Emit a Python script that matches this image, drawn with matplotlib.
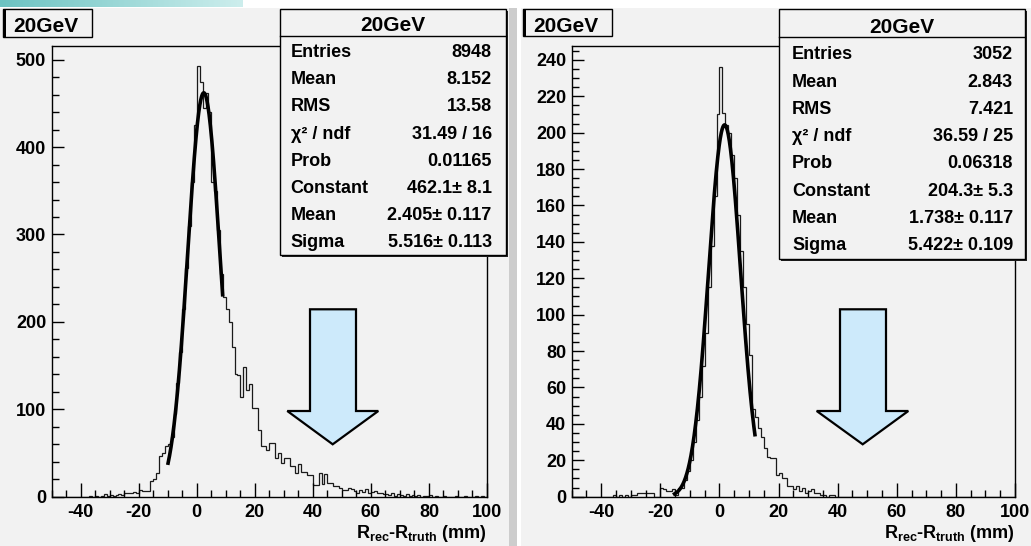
import numpy as np
import matplotlib
matplotlib.use("Agg")
import matplotlib.pyplot as plt
from matplotlib.patches import Rectangle, Polygon
from matplotlib.ticker import MultipleLocator
from matplotlib.colors import LinearSegmentedColormap

plt.rcParams['font.family'] = ['Liberation Sans', 'DejaVu Sans']
plt.rcParams['font.weight'] = 'bold'
plt.rcParams['axes.unicode_minus'] = False
plt.rcParams['mathtext.fontset'] = 'custom'
plt.rcParams['mathtext.rm'] = 'Liberation Sans:bold'
plt.rcParams['mathtext.it'] = 'Liberation Sans:bold'
plt.rcParams['mathtext.bf'] = 'Liberation Sans:bold'

# ---------------- data ----------------
bin_edges = np.arange(-50, 101, 1)

# left histogram (8948 entries), bins -50 .. 99
left_counts = [
    0, 0, 0, 0, 0, 0, 0, 0, 0, 0, 0, 0, 0,            # -50..-38
    1, 0, 1, 0, 1, 3, 1, 2, 1, 2, 3, 2, 4, 4, 4, 5, 4,  # -37..-21
    8, 6, 7, 7, 18, 20, 27, 47, 50, 58,               # -20..-11
    60, 68, 95, 130, 165, 215, 262, 310, 360, 425,    # -10..-1
    493, 474, 445, 462, 440, 360, 350, 305, 255, 228,  # 0..9
    215, 200, 171, 140, 139, 114, 148, 122, 129, 101,  # 10..19
    101, 76, 58, 58, 53, 61, 61, 44, 50, 38,           # 20..29
    44, 44, 35, 35, 27, 37, 28, 28, 25, 25,            # 30..39
    13, 13, 27, 14, 26, 16, 16, 12, 12, 10,            # 40..49
    8, 8, 10, 9, 7, 4, 8, 5, 9, 4,                     # 50..59
    5, 6, 4, 4, 3, 3, 2, 4, 1, 3,                      # 60..69
    2, 1, 3, 1, 2, 1, 2, 0, 1, 1,                      # 70..79
    2, 0, 1, 0, 0, 1, 0, 0, 0, 1,                      # 80..89
    0, 0, 1, 0, 0, 0, 1, 0, 1, 0,                      # 90..99
]

# right histogram (3052 entries), bins -50 .. 99
right_counts = [
    0, 0, 0, 0, 0, 0, 0, 0, 0, 0, 0, 0, 0, 0,         # -50..-37
    1, 0, 1, 0, 1, 0, 1, 1, 2, 2, 2, 2, 2, 2, 0, 0,   # -36..-21
    5, 4, 3, 3, 4, 1, 5, 5, 9, 14,                    # -20..-11
    20, 30, 42, 55, 72, 90, 115, 138, 165, 210,       # -10..-1
    236, 211, 204, 200, 188, 175, 155, 135, 115, 95,  # 0..9
    78, 48, 44, 38, 33, 27, 22, 21, 21, 12,           # 10..19
    13, 10, 10, 6, 6, 4, 6, 3, 5, 2,                  # 20..29
    3, 4, 2, 2, 1, 1, 0, 1, 1, 0,                     # 30..39
] + [0] * 60

# fit results (Gaussian)
left_fit = dict(const=462.1, mean=2.405, sigma=5.516, lo=-9.9, hi=8.9)
right_fit = dict(const=204.3, mean=1.738, sigma=5.422, lo=-15.2, hi=12.0)

left_stats = [("Entries", "8948"), ("Mean", "8.152"), ("RMS", "13.58"),
              ("\u03c7\u00b2 / ndf", "31.49 / 16"), ("Prob", "0.01165"),
              ("Constant", "462.1\u00b1 8.1"), ("Mean", "2.405\u00b1 0.117"),
              ("Sigma", "5.516\u00b1 0.113")]
right_stats = [("Entries", "3052"), ("Mean", "2.843"), ("RMS", "7.421"),
               ("\u03c7\u00b2 / ndf", "36.59 / 25"), ("Prob", "0.06318"),
               ("Constant", "204.3\u00b1 5.3"), ("Mean", "1.738\u00b1 0.117"),
               ("Sigma", "5.422\u00b1 0.109")]
title = "20GeV"
xlabel = r"R$_{rec}$-R$_{truth}$ (mm)"

# ---------------- figure ----------------
W, H = 1031, 546
fig = plt.figure(figsize=(W / 100, H / 100), dpi=100)
fig.patch.set_facecolor('white')

def fx(x):
    return x / W

def fy(y):
    return 1 - y / H

def prect(x0, y0, x1, y1, **kw):
    fig.patches.append(Rectangle((fx(x0), fy(y1)), fx(x1) - fx(x0), fy(y0) - fy(y1),
                                 transform=fig.transFigure, **kw))

# backgrounds
prect(0, 8, 509, 546, facecolor='#f2f2f2', edgecolor='none', zorder=-10)
prect(509, 8, 517, 546, facecolor='#cdcdcd', edgecolor='none', zorder=-10)
prect(521, 8, 1031, 546, facecolor='#f2f2f2', edgecolor='none', zorder=-10)

# gradient bar on top-left
gax = fig.add_axes([0, fy(7), fx(243), fy(0) - fy(7)])
grad = np.linspace(0, 1, 256)[None, :]
cm = LinearSegmentedColormap.from_list('g', ['#6cc3c2', '#cdeeed'])
gax.imshow(grad, aspect='auto', cmap=cm)
gax.axis('off')


def make_panel(px0, px1, counts, fit, ymax, ymajor, yminor, stats, box, tbox):
    ax = fig.add_axes([fx(px0), fy(496.7), fx(px1) - fx(px0), fy(45.7) - fy(496.7)])
    ax.set_facecolor('#f2f2f2')
    ax.stairs(counts, bin_edges, color='#1a1a1a', lw=0.9)
    xs = np.linspace(fit['lo'], fit['hi'], 300)
    ax.plot(xs, fit['const'] * np.exp(-0.5 * ((xs - fit['mean']) / fit['sigma']) ** 2),
            color='black', lw=2.6)
    ax.set_xlim(-50, 100)
    ax.set_ylim(0, ymax)
    ax.xaxis.set_major_locator(MultipleLocator(20))
    ax.xaxis.set_minor_locator(MultipleLocator(5))
    ax.yaxis.set_major_locator(MultipleLocator(ymajor))
    ax.yaxis.set_minor_locator(MultipleLocator(yminor))
    ax.tick_params(axis='x', which='major', direction='in', length=10, width=1, pad=5,
                   labelsize=13)
    ax.tick_params(axis='x', which='minor', direction='in', length=5, width=1)
    ax.tick_params(axis='y', which='major', direction='in', length=8.5, width=1, pad=4,
                   labelsize=13)
    ax.tick_params(axis='y', which='minor', direction='in', length=4.8, width=1)
    for lab in ax.get_xticklabels() + ax.get_yticklabels():
        lab.set_fontweight('bold')
    for sp in ax.spines.values():
        sp.set_linewidth(1)
    ax.set_xlabel(xlabel, fontsize=13, fontweight='bold', loc='right', labelpad=2)

    # title box
    tx0, ty0, tx1, ty1 = tbox
    prect(tx0, ty0, tx1, ty1, facecolor='#f2f2f2', edgecolor='black', lw=1, zorder=5)
    prect(tx0, ty0, tx0 + 2.5, ty1, facecolor='black', edgecolor='none', zorder=6)
    fig.text(fx(tx0 + 10), fy(32.3), title, fontsize=15, fontweight='bold',
             ha='left', va='baseline', zorder=7)

    # stats box
    bx0, by0, bx1, by1, div, tbase, base0, step, lx, rx = box
    prect(bx0 + 2, by0 + 2, bx1 + 2, by1 + 2, facecolor='#222222', edgecolor='none', zorder=5)
    prect(bx0, by0, bx1, by1, facecolor='#f2f2f2', edgecolor='black', lw=1, zorder=6)
    fig.lines.append(plt.Line2D([fx(bx0), fx(bx1)], [fy(div), fy(div)], color='black',
                                lw=1, transform=fig.transFigure, zorder=7))
    fig.text(fx((bx0 + bx1) / 2), fy(tbase), title, fontsize=15, fontweight='bold',
             ha='center', va='baseline', zorder=8)
    for i, (k, v) in enumerate(stats):
        yb = base0 + step * i
        fig.text(fx(lx), fy(yb), k, fontsize=13, fontweight='bold', ha='left',
                 va='baseline', zorder=8)
        fig.text(fx(rx), fy(yb), v, fontsize=13, fontweight='bold', ha='right',
                 va='baseline', zorder=8)
    return ax


def arrow(cx, xs0, xs1, xh0, xh1, ytop, ysh, ytip):
    pts = [(xs0, ytop), (xs1, ytop), (xs1, ysh), (xh1, ysh), (cx, ytip),
           (xh0, ysh), (xs0, ysh)]
    fig.patches.append(Polygon([(fx(a), fy(b)) for a, b in pts], closed=True,
                               transform=fig.transFigure, facecolor='#cdeafb',
                               edgecolor='black', lw=1.6, zorder=9))


make_panel(51.7, 487, left_counts, left_fit, 516, 100, 20, left_stats,
           (280, 9.3, 506, 255, 36, 30.7, 57.3, 27.1, 290.7, 491.7),
           (3.3, 9.3, 92, 36.7))
make_panel(571.7, 1015, right_counts, right_fit, 247.8, 20, 5, right_stats,
           (779, 9.3, 1025, 259, 36.7, 33.3, 59.3, 27.3, 792, 1013),
           (523, 9.3, 612, 35.5))

arrow(332.7, 310, 356, 287.3, 378.3, 309.3, 411, 444.3)
arrow(862.7, 840, 886, 816.7, 908.3, 309.3, 411, 444.3)

fig.savefig('out.png', dpi=100, facecolor='white')
